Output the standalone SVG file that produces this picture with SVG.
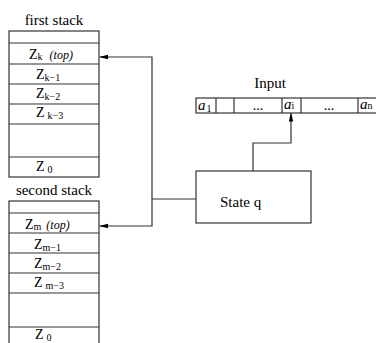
<svg xmlns="http://www.w3.org/2000/svg" width="376" height="343" viewBox="0 0 376 343">
<style>
.box{fill:#fff;stroke:#333;stroke-width:1.2}
.ln{fill:none;stroke:#333;stroke-width:1.2}
.t{font-family:"Liberation Serif","Times New Roman",serif;font-size:14px;fill:#000}
.l{font-size:15px}
.s{font-size:10px}
.i{font-style:italic}
.tp{font-style:italic;font-size:12px}
</style>
<defs>
<marker id="ah" markerWidth="9" markerHeight="6" refX="8" refY="3" orient="auto" markerUnits="userSpaceOnUse">
<path d="M0,0.8 L9,3 L0,5.2 Z" fill="#000"/>
</marker>
</defs>
<g id="first-stack">
<text class="t l" x="54" y="25" text-anchor="middle">first stack</text>
<rect class="box" x="9" y="31" width="90" height="146"/>
<path class="ln" d="M9,43H99M9,64H99M9,84H99M9,104H99M9,124H99M9,157H99"/>
<text class="t" x="29" y="59">Z<tspan class="s" dy="1">k</tspan><tspan class="tp" dx="7" dy="-1">(top)</tspan></text>
<text class="t" x="36" y="79">Z<tspan class="s" dy="2">k−1</tspan></text>
<text class="t" x="36" y="98">Z<tspan class="s" dy="2">k−2</tspan></text>
<text class="t" x="36" y="117">Z<tspan class="s" dx="3" dy="2">k−3</tspan></text>
<text class="t" x="36" y="171">Z<tspan class="s" dx="3" dy="2">0</tspan></text>
</g>
<g id="second-stack">
<text class="t l" x="54" y="195" text-anchor="middle">second stack</text>
<rect class="box" x="9" y="201" width="90" height="150"/>
<path class="ln" d="M9,213H99M9,233H99M9,253H99M9,273H99M9,293H99M9,327H99"/>
<text class="t" x="25" y="229">Z<tspan class="s" dy="1">m</tspan><tspan class="tp" dx="5" dy="-1">(top)</tspan></text>
<text class="t" x="34" y="249">Z<tspan class="s" dy="2">m−1</tspan></text>
<text class="t" x="34" y="268">Z<tspan class="s" dy="2">m−2</tspan></text>
<text class="t" x="34" y="287">Z<tspan class="s" dx="3" dy="2">m−3</tspan></text>
<text class="t" x="35" y="339">Z<tspan class="s" dx="3" dy="2">0</tspan></text>
</g>
<g id="input">
<text class="t l" x="270" y="88" text-anchor="middle">Input</text>
<rect class="box" x="196" y="98" width="184" height="15"/>
<path class="ln" d="M216,98V113M234,98V113M282,98V113M301,98V113M358,98V113"/>
<text class="t" x="198" y="110" style="font-size:15px"><tspan class="i">a</tspan><tspan class="s" dx="1" dy="2">1</tspan></text>
<text class="t" x="258" y="110" text-anchor="middle">...</text>
<text class="t" x="284" y="109" style="font-size:15px"><tspan class="i">a</tspan><tspan class="s">i</tspan></text>
<text class="t" x="329" y="110" text-anchor="middle">...</text>
<text class="t" x="360" y="109" style="font-size:15px"><tspan class="i">a</tspan><tspan class="s">n</tspan></text>
</g>
<g id="state">
<rect class="box" x="196" y="171" width="115" height="52"/>
<text class="t l" x="220" y="207">State  q</text>
</g>
<g id="connectors">
<path class="ln" d="M196,199H152V57H100" marker-end="url(#ah)"/>
<path class="ln" d="M152,199V226H100" marker-end="url(#ah)"/>
<path class="ln" d="M253,171V143H291V113.5" marker-end="url(#ah)"/>
</g>
</svg>
